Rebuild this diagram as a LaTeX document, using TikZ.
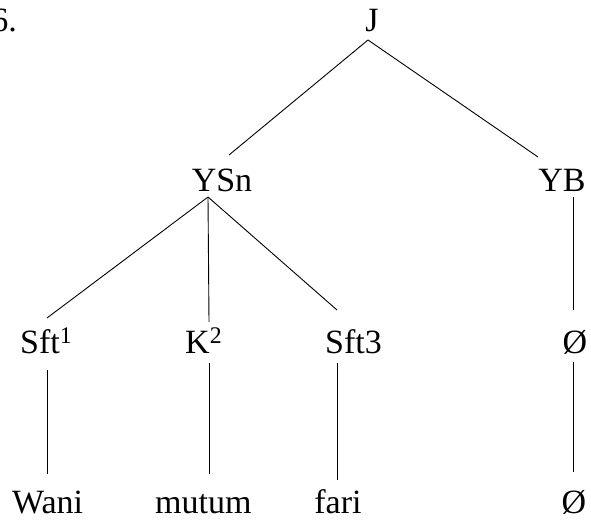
\documentclass[tikz,border=0pt]{standalone}
\usepackage{fontspec}
\setmainfont{Liberation Serif}
\begin{document}
\begin{tikzpicture}[x=1pt,y=-1pt,
  lbl/.style={inner sep=0pt,font=\fontsize{34}{40}\selectfont},
  edge/.style={line width=0.9pt,black}]
\useasboundingbox (0,0) rectangle (591,521);
% labels
\node[lbl,anchor=base east] (num) at (17,32) {6.};
\node[lbl,anchor=base] (J) at (372,32) {J};
\node[lbl,anchor=base] (YSn) at (222,192) {YSn};
\node[lbl,anchor=base] (YB) at (562,192) {YB};
\node[lbl,anchor=base west] (Sft1) at (20,353) {Sft\textsuperscript{1}};
\node[lbl,anchor=base west] (K2) at (185,353) {K\textsuperscript{2}};
\node[lbl,anchor=base west] (Sft3) at (325,353) {Sft3};
\node[lbl,anchor=base] (O1) at (575,353) {Ø};
\node[lbl,anchor=base west] (Wani) at (12,513) {Wani};
\node[lbl,anchor=base west] (mutum) at (155,513) {mutum};
\node[lbl,anchor=base] (fari) at (338,513) {fari};
\node[lbl,anchor=base] (O2) at (574,513) {Ø};
% attachment points
\coordinate (J-b) at (368,40);
\coordinate (YSn-t) at (229,155);
\coordinate (YSn-b) at (208,197);
\coordinate (YB-t) at (538,157);
\coordinate (YB-b) at (573,197);
\coordinate (Sft1-t) at (47,318);
\coordinate (Sft1-b) at (47,370);
\coordinate (K2-t) at (209,322);
\coordinate (K2-b) at (209,363);
\coordinate (Sft3-t) at (337,310);
\coordinate (Sft3-b) at (337,363);
\coordinate (O1-t) at (573,310);
\coordinate (O1-b) at (573,362);
\coordinate (Wani-t) at (47,474);
\coordinate (mutum-t) at (209,474);
\coordinate (fari-t) at (337,480);
\coordinate (O2-t) at (573,472);
% connectors
\draw[edge] (J-b) -- (YSn-t);
\draw[edge] (J-b) -- (YB-t);
\draw[edge] (YSn-b) -- (Sft1-t);
\draw[edge] (YSn-b) -- (K2-t);
\draw[edge] (YSn-b) -- (Sft3-t);
\draw[edge] (YB-b) -- (O1-t);
\draw[edge] (Sft1-b) -- (Wani-t);
\draw[edge] (K2-b) -- (mutum-t);
\draw[edge] (Sft3-b) -- (fari-t);
\draw[edge] (O1-b) -- (O2-t);
\end{tikzpicture}
\end{document}
